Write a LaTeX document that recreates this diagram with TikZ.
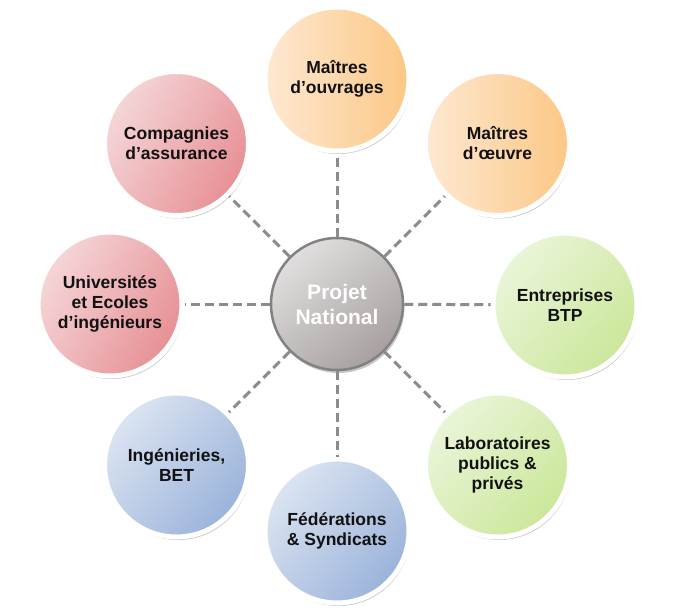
\documentclass[tikz,border=0pt]{standalone}
\usepackage{fontspec}
\setmainfont{Liberation Sans}
\usetikzlibrary{shadows}
\definecolor{orL}{RGB}{253,233,210}
\definecolor{orR}{RGB}{252,199,133}
\definecolor{rdL}{RGB}{245,214,216}
\definecolor{rdR}{RGB}{231,144,149}
\definecolor{grL}{RGB}{234,245,217}
\definecolor{grR}{RGB}{203,231,154}
\definecolor{blL}{RGB}{219,228,241}
\definecolor{blR}{RGB}{155,179,218}
\definecolor{ctL}{RGB}{224,222,222}
\definecolor{ctR}{RGB}{168,160,160}
\definecolor{ctB}{RGB}{130,130,130}
\definecolor{dashgray}{RGB}{140,140,140}
\definecolor{txt}{RGB}{17,17,17}
\tikzset{
  outer/.style={circle, minimum size=144pt, inner sep=0pt, draw=white, line width=5pt,
    align=center, text=txt, font=\bfseries\fontsize{17.5}{20}\selectfont,
    drop shadow={shadow xshift=1.5pt, shadow yshift=-3pt, opacity=0.22, fill=black}},
  orange/.style={outer, left color=orL, right color=orR},
  red/.style={outer, top color=rdL, bottom color=rdR, shading angle=60},
  green/.style={outer, top color=grL, bottom color=grR, shading angle=50},
  blue/.style={outer, top color=blL, bottom color=blR, shading angle=50},
  centre/.style={circle, minimum size=132pt, inner sep=0pt, draw=ctB, line width=2.5pt,
    top color=ctL, bottom color=ctR, shading angle=40,
    align=center, text=white, font=\bfseries\fontsize{21}{25}\selectfont,
    drop shadow={shadow xshift=1.5pt, shadow yshift=-3pt, opacity=0.22, fill=black}},
  conn/.style={draw=dashgray, line width=3pt, dash pattern=on 9pt off 5pt}
}
\begin{document}
\begin{tikzpicture}[x=1pt,y=-1pt]
\useasboundingbox (0,0) rectangle (675,615);
\fill[white] (0,0) rectangle (675,615);
\node[centre] (c) at (337,304) {Projet\\National};
\node[orange] (n1) at (337,79) {Maîtres\\d’ouvrages};
\node[orange] (n2) at (497.5,143.5) {Maîtres\\d’œuvre};
\node[green] (n3) at (565,305) {Entreprises\\BTP};
\node[green] (n4) at (497.5,465) {Laboratoires\\publics \&\\privés};
\node[blue] (n5) at (337,531) {Fédérations\\\& Syndicats};
\node[blue] (n6) at (176.5,465) {Ingénieries,\\BET};
\node[red] (n7) at (110,304) {Universités\\et Ecoles\\d’ingénieurs};
\node[red] (n8) at (176.5,143.5) {Compagnies\\d’assurance};
\foreach \n in {n1,n2,n3,n4,n5,n6,n7,n8}{
  \draw[conn] (c) -- (\n);
}
\end{tikzpicture}
\end{document}
